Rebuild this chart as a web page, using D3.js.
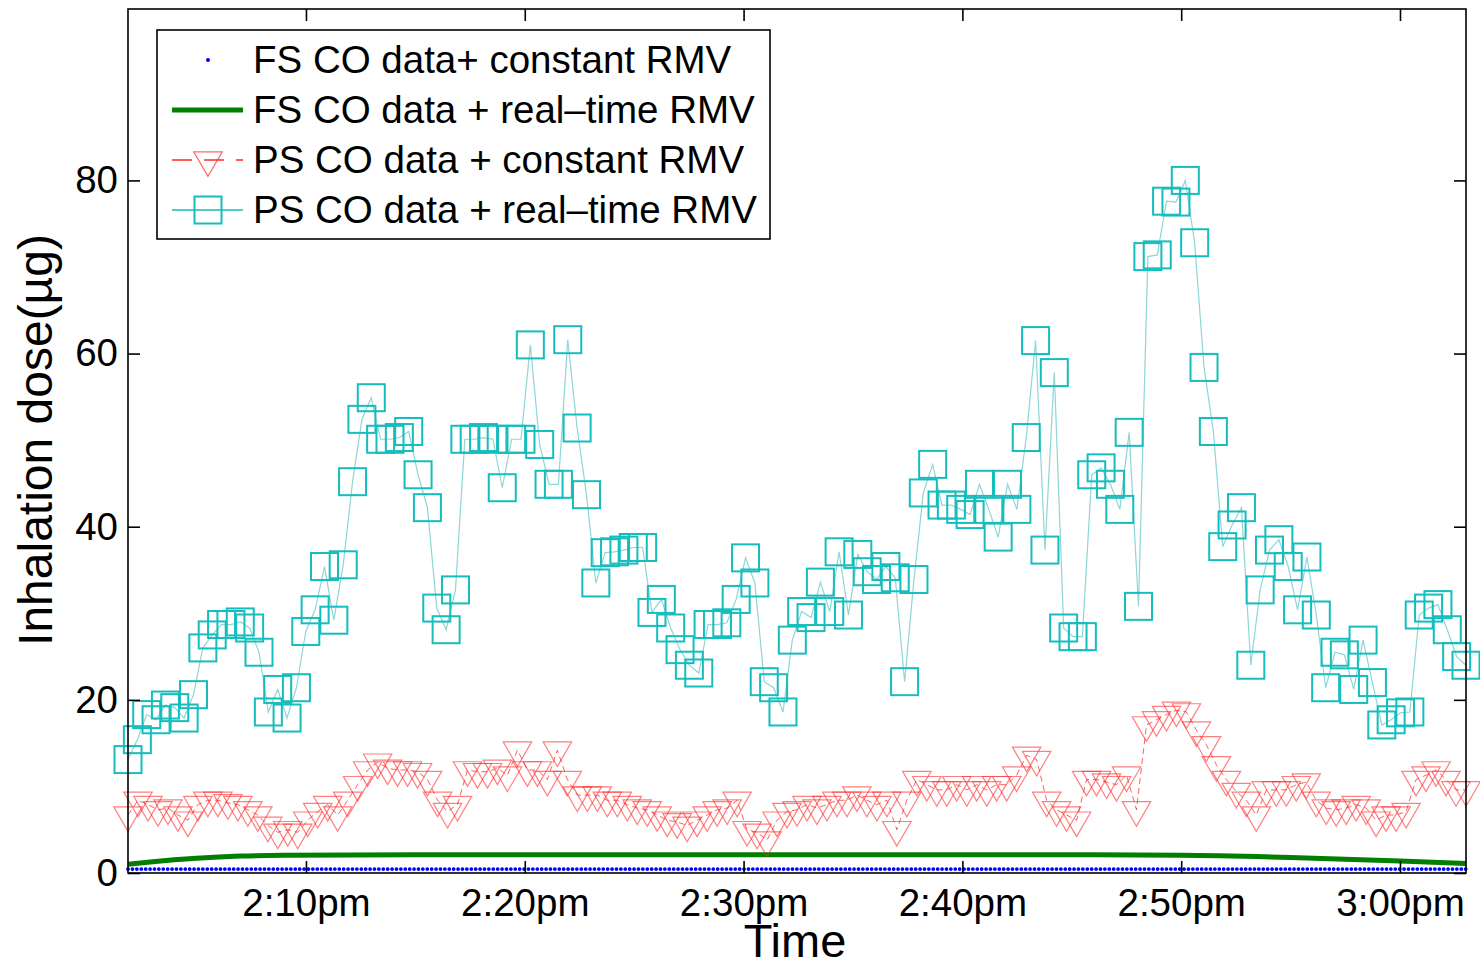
<!DOCTYPE html>
<html>
<head>
<meta charset="utf-8">
<script src="https://cdn.jsdelivr.net/npm/d3@7"></script>
<style>
  body { margin: 0; background: #fff; }
  text { font-family: "Liberation Sans", Arial, sans-serif; fill: #000; }
</style>
</head>
<body>
<div id="chart"></div>
<script>
// sample window (first / last sample of every series)
var startTime = new Date(2012, 0, 1, 14, 1, 52);
var endTime = new Date(2012, 0, 1, 15, 3, 1);

var xTickTimes = [
  new Date(2012, 0, 1, 14, 10), new Date(2012, 0, 1, 14, 20), new Date(2012, 0, 1, 14, 30),
  new Date(2012, 0, 1, 14, 40), new Date(2012, 0, 1, 14, 50), new Date(2012, 0, 1, 15, 0)
];
var yTickValues = [0, 20, 40, 60, 80];

// FS CO data + constant RMV (minutes after 2:00pm, dose)
var fsConstMinutes = [1.87, 30, 63.02];
var fsConstValues = [0.45, 0.45, 0.45];

// FS CO data + real-time RMV
var fsRealMinutes = [1.87, 3, 5, 7, 9, 15, 25, 35, 45, 50, 55, 60, 63.02];
var fsRealValues = [1.0, 1.3, 1.7, 1.95, 2.05, 2.1, 2.1, 2.1, 2.1, 2.05, 1.8, 1.4, 1.1];

// PS CO data + constant RMV (evenly sampled over the window)
var psConstValues = [
  6.7, 8.4, 7.9, 7.3, 7.5, 6.7, 6.1, 7.9, 8.4, 8.4,
  8.1, 7.9, 7.3, 6.7, 5.5, 4.7, 5.0, 4.7, 6.1, 7.1,
  7.9, 6.7, 8.4, 10.2, 11.9, 12.8, 12.1, 11.9, 11.9, 11.7,
  10.8, 8.4, 7.1, 7.9, 11.9, 11.7, 11.7, 12.1, 11.3, 14.2,
  11.9, 11.9, 10.8, 14.2, 10.8, 9.0, 9.0, 9.0, 8.4, 8.4,
  7.9, 7.5, 7.3, 6.7, 6.1, 5.9, 5.5, 6.1, 6.7, 7.3,
  7.5, 8.4, 5.0, 4.7, 3.8, 6.1, 7.1, 7.3, 7.9, 7.5,
  7.9, 8.4, 8.4, 9.0, 8.4, 7.9, 8.4, 5.0, 8.4, 10.8,
  10.2, 9.6, 9.6, 10.2, 9.6, 10.2, 9.6, 10.2, 10.2, 11.3,
  13.6, 13.1, 8.4, 7.3, 6.7, 6.1, 10.8, 10.8, 10.5, 10.2,
  11.3, 7.3, 17.1, 17.7, 18.3, 18.8, 18.6, 16.5, 14.8, 12.5,
  10.8, 9.4, 8.4, 6.7, 9.6, 9.6, 9.6, 10.2, 10.5, 8.4,
  7.5, 7.3, 7.5, 7.9, 7.5, 6.1, 6.7, 6.7, 7.1, 10.8,
  11.3, 11.9, 10.8, 9.6, 9.6
];

// PS CO data + real-time RMV (evenly sampled over the window)
var psRealValues = [
  13.1, 15.4, 18.3, 17.7, 19.4, 19.1, 17.9, 20.6, 26.0, 27.5,
  28.7, 28.7, 29.0, 28.3, 25.5, 18.6, 21.2, 17.9, 21.4, 27.9,
  30.4, 35.4, 29.2, 35.6, 45.2, 52.4, 54.9, 50.1, 50.1, 50.3,
  51.0, 46.0, 42.2, 30.6, 28.1, 32.7, 50.1, 50.1, 50.3, 50.1,
  44.5, 50.1, 50.1, 61.0, 49.5, 44.9, 44.9, 61.6, 51.4, 43.7,
  33.5, 37.0, 37.1, 37.3, 37.6, 37.6, 30.1, 31.6, 28.3, 25.8,
  24.0, 23.1, 28.7, 28.7, 28.9, 31.6, 36.4, 33.5, 22.1, 21.4,
  18.6, 26.9, 30.2, 29.5, 33.6, 30.2, 37.1, 29.8, 36.8, 34.8,
  33.9, 35.4, 34.1, 22.1, 33.9, 43.9, 47.2, 42.5, 42.5, 42.0,
  41.4, 44.9, 42.0, 38.8, 44.9, 42.0, 50.3, 61.5, 37.3, 57.8,
  28.3, 27.3, 27.3, 46.0, 46.8, 44.9, 42.0, 50.9, 30.8, 71.2,
  71.4, 77.6, 77.5, 80.0, 72.8, 58.4, 51.0, 37.7, 40.2, 42.2,
  24.0, 32.7, 37.3, 38.5, 35.4, 30.4, 36.5, 29.8, 21.4, 25.5,
  25.2, 21.2, 26.9, 22.0, 17.1, 17.7, 18.5, 18.6, 29.8, 30.6,
  31.0, 28.1, 25.0, 24.0
];

var legendLabels = [
  "FS CO data+ constant RMV",
  "FS CO data + real\u2013time RMV",
  "PS CO data + constant RMV",
  "PS CO data + real\u2013time RMV"
];

var svgWidth = 1480;
var svgHeight = 965;
var margin = { top: 9, right: 14, bottom: 92, left: 128 };
var width = svgWidth - margin.left - margin.right;
var height = svgHeight - margin.top - margin.bottom;

var blue = "#0000ff", green = "#007f00", red = "#ff2a2a", cyan = "#16bdbd";

var svg = d3.select("#chart").append("svg")
  .attr("width", svgWidth)
  .attr("height", svgHeight);

var chartGroup = svg.append("g")
  .attr("transform", `translate(${margin.left}, ${margin.top})`);

var x = d3.scaleTime().domain([startTime, endTime]).range([0, width]);
var y = d3.scaleLinear().domain([0, 99.8]).range([height, 0]);

function atMinute(m) {
  return new Date(2012, 0, 1, 14, 0, 0, Math.round(m * 60000));
}
function evenTimes(n) {
  var span = endTime - startTime;
  return d3.range(n).map(i => new Date(+startTime + span * i / (n - 1)));
}

var fsConst = fsConstMinutes.map((m, i) => ({ t: atMinute(m), v: fsConstValues[i] }));
var fsReal = fsRealMinutes.map((m, i) => ({ t: atMinute(m), v: fsRealValues[i] }));
var psConstT = evenTimes(psConstValues.length);
var psConst = psConstValues.map((v, i) => ({ t: psConstT[i], v: v }));
var psRealT = evenTimes(psRealValues.length);
var psReal = psRealValues.map((v, i) => ({ t: psRealT[i], v: v }));

var line = d3.line().x(d => x(d.t)).y(d => y(d.v));

var plot = chartGroup.append("g");

// blue dots (dense sampled marker series)
plot.append("path").datum(fsConst)
  .attr("d", line)
  .attr("fill", "none")
  .attr("stroke", blue)
  .attr("stroke-width", 3.8)
  .attr("stroke-linecap", "round")
  .attr("stroke-dasharray", "0 4.4");

// green thick line
plot.append("path").datum(fsReal)
  .attr("d", d3.line().curve(d3.curveMonotoneX).x(d => x(d.t)).y(d => y(d.v)))
  .attr("fill", "none")
  .attr("stroke", green)
  .attr("stroke-width", 5);

// red dashed + triangles
plot.append("path").datum(psConst)
  .attr("d", line)
  .attr("fill", "none")
  .attr("stroke", red)
  .attr("stroke-width", 1)
  .attr("stroke-opacity", 0.75)
  .attr("stroke-dasharray", "6 4");

var tri = d3.symbol().type(d3.symbolTriangle).size(350);
plot.selectAll(".tri").data(psConst).enter().append("path")
  .attr("class", "tri")
  .attr("d", tri)
  .attr("transform", d => `translate(${x(d.t)}, ${y(d.v)}) rotate(180)`)
  .attr("fill", "none")
  .attr("stroke", red)
  .attr("stroke-opacity", 0.6)
  .attr("stroke-width", 1.2);

// cyan line + squares
plot.append("path").datum(psReal)
  .attr("d", line)
  .attr("fill", "none")
  .attr("stroke", "#8fd6d6")
  .attr("stroke-width", 1.2);

var sq = 27;
plot.selectAll(".sq").data(psReal).enter().append("rect")
  .attr("class", "sq")
  .attr("x", d => x(d.t) - sq / 2)
  .attr("y", d => y(d.v) - sq / 2)
  .attr("width", sq)
  .attr("height", sq)
  .attr("fill", "none")
  .attr("stroke", cyan)
  .attr("stroke-width", 2);

// axes (ticks point inward, box around the plot)
var fmt = d3.timeFormat("%-I:%M");
var xAxis = chartGroup.append("g")
  .attr("transform", `translate(0, ${height})`)
  .call(d3.axisBottom(x).tickValues(xTickTimes).tickSizeInner(-12).tickSizeOuter(0)
    .tickPadding(16).tickFormat(d => fmt(d) + "pm"));
chartGroup.append("g")
  .call(d3.axisTop(x).tickValues(xTickTimes).tickSizeInner(-12).tickSizeOuter(0).tickFormat(""));
var yAxis = chartGroup.append("g")
  .call(d3.axisLeft(y).tickValues(yTickValues).tickSizeInner(-12).tickSizeOuter(0).tickPadding(10));
chartGroup.append("g")
  .attr("transform", `translate(${width}, 0)`)
  .call(d3.axisRight(y).tickValues(yTickValues).tickSizeInner(-12).tickSizeOuter(0).tickFormat(""));

chartGroup.selectAll(".domain").remove();
chartGroup.selectAll(".tick line").attr("stroke", "#000").attr("stroke-width", 1.6);
chartGroup.selectAll(".tick text")
  .style("font-family", "'Liberation Sans', Arial, sans-serif")
  .style("font-size", "38.5px")
  .attr("fill", "#000");

chartGroup.append("rect")
  .attr("width", width)
  .attr("height", height)
  .attr("fill", "none")
  .attr("stroke", "#000")
  .attr("stroke-width", 1.6);

// axis titles
svg.append("text")
  .attr("x", 795)
  .attr("y", 957)
  .attr("text-anchor", "middle")
  .style("font-size", "47px")
  .text("Time");

svg.append("text")
  .attr("transform", "translate(52, 440) rotate(-90)")
  .attr("text-anchor", "middle")
  .style("font-size", "48px")
  .text("Inhalation dose(\u00b5g)");

// legend
var legend = svg.append("g").attr("transform", "translate(157, 30)");
legend.append("rect")
  .attr("width", 613)
  .attr("height", 209)
  .attr("fill", "#fff")
  .attr("stroke", "#000")
  .attr("stroke-width", 1.6);

var rowY = [30, 80, 130, 180];
legend.selectAll(".lab").data(legendLabels).enter().append("text")
  .attr("class", "lab")
  .attr("x", 96)
  .attr("y", (d, i) => rowY[i] + 13)
  .style("font-size", "38.5px")
  .text(d => d);

legend.append("circle").attr("cx", 51).attr("cy", rowY[0]).attr("r", 2).attr("fill", blue);

legend.append("line").attr("x1", 15).attr("x2", 86).attr("y1", rowY[1]).attr("y2", rowY[1])
  .attr("stroke", green).attr("stroke-width", 5);

legend.append("line").attr("x1", 15).attr("x2", 86).attr("y1", rowY[2]).attr("y2", rowY[2])
  .attr("stroke", red).attr("stroke-width", 1.5).attr("stroke-dasharray", "20 12");
legend.append("path").attr("d", tri)
  .attr("transform", `translate(51, ${rowY[2]}) rotate(180)`)
  .attr("fill", "none").attr("stroke", red).attr("stroke-opacity", 0.7).attr("stroke-width", 1.2);

legend.append("line").attr("x1", 15).attr("x2", 86).attr("y1", rowY[3]).attr("y2", rowY[3])
  .attr("stroke", cyan).attr("stroke-width", 1.5);
legend.append("rect").attr("x", 51 - sq / 2).attr("y", rowY[3] - sq / 2)
  .attr("width", sq).attr("height", sq)
  .attr("fill", "none").attr("stroke", cyan).attr("stroke-width", 2);
</script>
</body>
</html>
